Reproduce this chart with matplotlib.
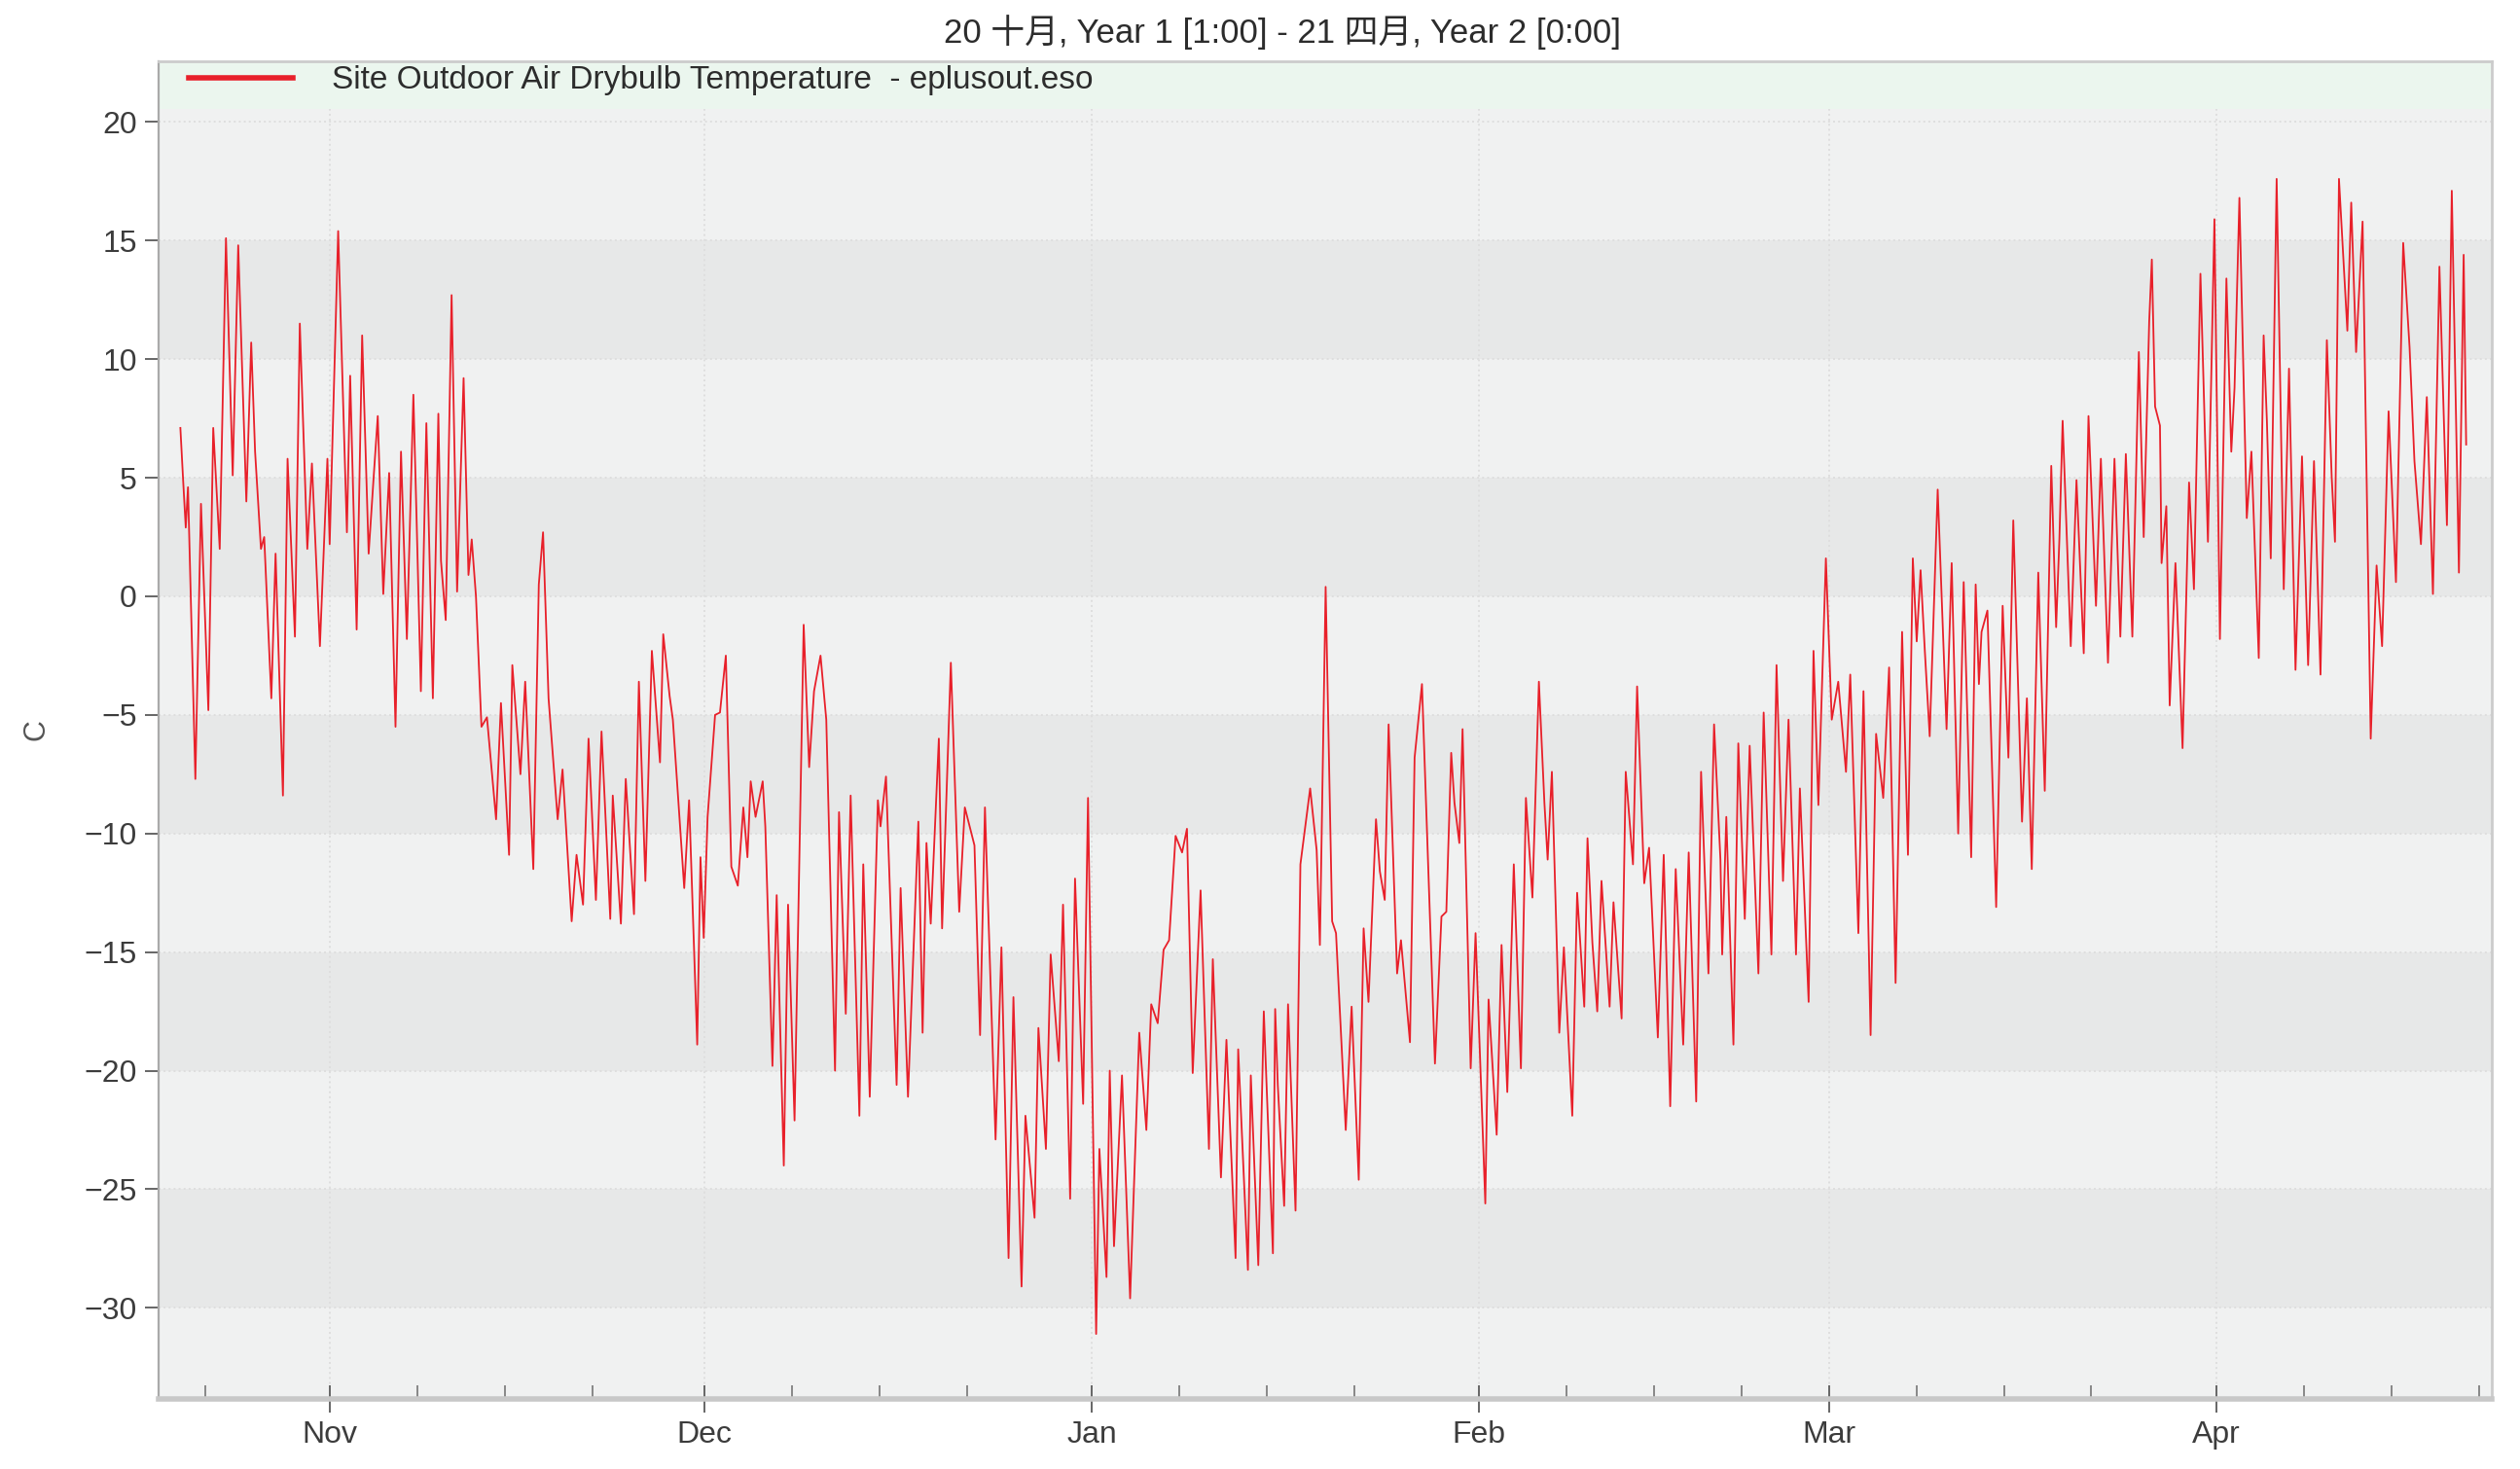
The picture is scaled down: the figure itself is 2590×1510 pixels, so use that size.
import matplotlib
matplotlib.use('Agg')
import matplotlib.pyplot as plt
import matplotlib.dates as mdates
from matplotlib.patches import Rectangle
from datetime import datetime, timedelta

plt.rcParams['font.family'] = ['Liberation Sans', 'Noto Sans CJK SC', 'DejaVu Sans']

start = datetime(2001, 10, 20)
day_offset = [
    0.04, 0.26, 0.47, 0.65, 1.24, 1.69, 2.28, 2.67, 3.19, 3.69, 4.23, 4.67, 5.32, 5.71,
    6.02, 6.49, 6.75, 7.32, 7.66, 8.25, 8.62, 9.21, 9.60, 10.20, 10.57, 11.21, 11.81,
    11.99, 12.67, 13.37, 13.63, 14.15, 14.59, 15.11, 15.52, 15.84, 16.28, 16.75, 17.26,
    17.70, 18.17,
    18.69, 18.95, 19.29, 19.73, 20.25, 20.69, 20.90, 21.28, 21.75, 22.19, 22.71, 23.10,
    23.36, 23.70, 24.14, 24.58, 25.31, 25.70, 26.35, 26.61, 27.26, 27.64, 28.29, 28.73,
    29.07, 29.51, 30.24, 30.63, 31.36, 31.75, 32.27, 32.71, 33.30, 33.75, 34.45, 34.65,
    35.30, 35.69,
    36.35, 36.74, 37.26, 37.78, 38.43, 38.69, 39.20, 39.46, 40.37, 40.76, 41.41, 41.67,
    41.93, 42.24, 42.84, 43.23, 43.70, 44.14, 44.66, 45.10, 45.43, 45.69, 46.08, 46.65,
    46.86, 47.43, 47.77, 48.34, 48.68, 49.20, 49.93, 50.37, 50.76, 51.28, 51.74, 52.44,
    52.76, 53.30, 53.69,
    54.39, 54.70, 55.22, 55.87, 56.08, 56.52, 57.37, 57.69, 58.28, 59.11, 59.45, 59.76,
    60.10, 60.75, 61.01, 61.71, 62.38, 62.83, 63.60, 64.05, 64.44, 65.29, 65.76, 66.33,
    66.72, 67.37, 67.68, 68.41, 68.72, 69.32, 69.70, 70.35, 70.69, 71.26,
    71.65, 72.30, 72.69, 73.34, 73.60, 74.17, 74.43, 74.77, 75.41, 76.06, 76.79, 77.36,
    77.75, 78.27, 78.74, 79.18, 79.70, 80.22, 80.61, 81.07, 81.70, 82.37, 82.68, 83.33,
    83.77, 84.50, 84.71, 85.49, 85.72, 86.32, 86.76, 87.49, 87.67, 87.88, 88.39, 88.70,
    89.30,
    89.69, 90.47, 90.99, 91.25, 91.71, 92.23, 92.54, 93.32, 93.79, 94.36, 94.75, 95.14,
    95.74, 96.05, 96.44, 96.75, 97.43, 97.74, 98.46, 98.83, 99.42, 100.46, 100.98,
    101.37, 101.76, 102.02, 102.41, 102.67, 103.32, 103.71, 104.49, 104.75, 105.40,
    105.79, 106.25, 106.77, 107.34, 107.74,
    108.26, 108.78, 109.22, 109.48, 109.82, 110.41, 110.78, 111.45, 111.84, 112.41,
    112.67, 113.06, 113.45, 113.79, 114.44, 114.75, 115.40, 115.73, 116.31, 116.64,
    117.21, 117.60, 118.30, 118.77, 119.29, 119.73, 120.33, 120.77, 121.37, 121.76,
    122.35, 122.80, 123.31, 123.45, 123.78, 124.35, 124.74, 125.26, 125.65,
    126.35, 126.77, 127.39, 127.80, 128.32, 128.76, 129.36, 129.67, 130.37, 130.76,
    131.15, 131.75, 132.22, 132.74, 133.36, 133.70, 134.35, 134.76, 135.33, 135.77,
    136.34, 136.81, 137.33, 137.85, 138.32, 138.71, 139.02, 139.33, 139.67, 140.06,
    140.70, 141.41, 141.82, 142.34, 142.78, 143.38, 143.74,
    144.00, 144.21, 144.68, 145.38, 145.90, 146.36, 146.75, 147.45, 147.84, 148.23,
    148.75, 149.27, 149.79, 150.18, 150.44, 150.70, 151.35, 151.81, 152.39, 152.77,
    153.37, 153.76, 154.33, 154.85, 155.32, 155.76, 156.28, 156.80, 157.19, 157.63,
    157.84, 158.10, 158.49, 158.62, 159.00, 159.27, 159.73, 160.30, 160.82, 161.21,
    161.73,
    161.90, 162.33, 162.85, 163.29, 163.81, 164.20, 164.46, 164.85, 165.44, 165.81,
    166.40, 166.79, 167.05, 167.36, 167.83, 168.40, 168.82, 169.34, 169.86, 170.35,
    170.82, 171.34, 171.85, 172.24, 172.50, 172.82, 173.49, 173.80, 174.19, 174.71,
    175.36, 175.83, 176.27, 176.79, 177.38, 177.96, 178.47, 178.86, 179.38, 179.85,
    180.34, 180.86, 181.46, 181.85, 182.42, 182.80, 183.00,
]
temp_c = [
    7.1, 4.9, 2.9, 4.6, -7.7, 3.9, -4.8, 7.1, 2.0, 15.1, 5.1, 14.8, 4.0, 10.7,
    6.1, 2.0, 2.5, -4.3, 1.8, -8.4, 5.8, -1.7, 11.5, 2.0, 5.6, -2.1, 5.8,
    2.2, 15.4, 2.7, 9.3, -1.4, 11.0, 1.8, 5.1, 7.6, 0.1, 5.2, -5.5,
    6.1, -1.8,
    8.5, 3.2, -4.0, 7.3, -4.3, 7.7, 1.5, -1.0, 12.7, 0.2, 9.2, 0.9,
    2.4, 0.0, -5.5, -5.1, -9.4, -4.5, -10.9, -2.9, -7.5, -3.6, -11.5, 0.5,
    2.7, -4.3, -9.4, -7.3, -13.7, -10.9, -13.0, -6.0, -12.8, -5.7, -13.6, -8.4,
    -13.8, -7.7,
    -13.4, -3.6, -12.0, -2.3, -7.0, -1.6, -4.2, -5.2, -12.3, -8.6, -18.9, -11.0,
    -14.4, -9.3, -5.0, -4.9, -2.5, -11.4, -12.2, -8.9, -11.0, -7.8, -9.3, -7.8,
    -9.7, -19.8, -12.6, -24.0, -13.0, -22.1, -1.2, -7.2, -4.0, -2.5, -5.2, -20.0,
    -9.1, -17.6, -8.4,
    -21.9, -11.3, -21.1, -8.6, -9.7, -7.6, -20.6, -12.3, -21.1, -9.5, -18.4, -10.4,
    -13.8, -6.0, -14.0, -2.8, -13.3, -8.9, -10.5, -18.5, -8.9, -22.9, -14.8, -27.9,
    -16.9, -29.1, -21.9, -26.2, -18.2, -23.3, -15.1, -19.6, -13.0, -25.4,
    -11.9, -21.4, -8.5, -31.1, -23.3, -28.7, -20.0, -27.4, -20.2, -29.6, -18.4, -22.5,
    -17.2, -18.0, -14.9, -14.5, -10.1, -10.8, -9.8, -20.1, -12.4, -23.3, -15.3, -24.5,
    -18.7, -27.9, -19.1, -28.4, -20.2, -28.2, -17.5, -27.7, -17.4, -20.6, -25.7, -17.2,
    -25.9,
    -11.3, -8.1, -10.7, -14.7, 0.4, -13.7, -14.2, -22.5, -17.3, -24.6, -14.0, -17.1,
    -9.4, -11.6, -12.8, -5.4, -15.9, -14.5, -18.8, -6.8, -3.7, -19.7, -13.5,
    -13.3, -6.6, -8.7, -10.4, -5.6, -19.9, -14.2, -25.6, -17.0, -22.7,
    -14.7, -20.9, -11.3, -19.9, -8.5,
    -12.7, -3.6, -8.7, -11.1, -7.4, -18.4, -14.8, -21.9, -12.5, -17.3,
    -10.2, -14.6, -17.5, -12.0, -17.3, -12.9, -17.8, -7.4, -11.3, -3.8,
    -12.1, -10.6, -18.6, -10.9, -21.5, -11.5, -18.9, -10.8, -21.3, -7.4,
    -15.9, -5.4, -11.1, -15.1, -9.3, -18.9, -6.2, -13.6, -6.3,
    -15.9, -4.9, -15.1, -2.9, -12.0, -5.2, -15.1, -8.1, -17.1, -2.3,
    -8.8, 1.6, -5.2, -3.6, -7.4, -3.3, -14.2, -4.0, -18.5, -5.8,
    -8.5, -3.0, -16.3, -1.5, -10.9, 1.6, -1.9, 1.1, -2.3, -5.9,
    4.5, -5.6, 1.4, -10.0, 0.6, -11.0, 0.5,
    -3.7, -1.5, -0.6, -13.1, -0.4, -6.8, 3.2, -9.5, -4.3, -11.5,
    1.0, -8.2, 5.5, -1.3, 2.4, 7.4, -2.1, 4.9, -2.4, 7.6,
    -0.4, 5.8, -2.8, 5.8, -1.7, 6.0, -1.7, 10.3, 2.5, 11.6,
    14.2, 8.0, 7.2, 1.4, 3.8, -4.6, 1.4, -6.4, 4.8, 0.3,
    13.6,
    10.5, 2.3, 15.9, -1.8, 13.4, 6.1, 8.8, 16.8, 3.3, 6.1,
    -2.6, 11.0, 7.4, 1.6, 17.6, 0.3, 9.6, -3.1, 5.9, -2.9,
    5.7, -3.3, 10.8, 5.0, 2.3, 17.6, 11.2, 16.6, 10.3, 15.8,
    -6.0, 1.3, -2.1, 7.8, 0.6, 14.9, 10.5, 5.7, 2.2, 8.4,
    0.1, 13.9, 3.0, 17.1, 1.0, 14.4, 6.4,
]

series_label = 'Site Outdoor Air Drybulb Temperature  - eplusout.eso'
title = '20 十月, Year 1 [1:00] - 21 四月, Year 2 [0:00]'
y_ticks = [20, 15, 10, 5, 0, -5, -10, -15, -20, -25, -30]
dark_bands = [10, 0, -10, -20, -30]   # lower edge of each darker 5-degree band

times = [start + timedelta(days=d) for d in day_offset]

fig = plt.figure(figsize=(12.95, 7.55), dpi=200)
ax = fig.add_axes([0.0629, 0.0477, 0.9259, 0.9106])
ax.set_facecolor('#f0f1f1')

for lo in dark_bands:
    ax.axhspan(lo, lo + 5, color='#e7e8e8', lw=0, zorder=0)

# light green strip behind the legend
ax.add_patch(Rectangle((0, 0.964), 1, 0.036, transform=ax.transAxes,
                       color='#ebf6ee', lw=0, zorder=1))

ax.plot(times, temp_c, color='#e8202a', lw=0.65, label=series_label, zorder=3)

ax.set_xlim(start - timedelta(days=1.71), start + timedelta(days=185.05))
ax.set_ylim(-33.84, 22.56)
ax.set_yticks(y_ticks)

ax.xaxis.set_major_locator(mdates.MonthLocator())
ax.xaxis.set_major_formatter(mdates.DateFormatter('%b'))
ax.xaxis.set_minor_locator(mdates.DayLocator(bymonthday=[8, 15, 22]))

ax.grid(True, which='major', axis='both', color='#dedede', lw=0.7, ls=':', zorder=1)
ax.set_axisbelow(True)

ax.tick_params(axis='y', colors='#666666', labelsize=11.5, length=5, width=0.7,
               direction='out', pad=3)
ax.tick_params(axis='x', which='major', colors='#666666', labelsize=11.5, length=10,
               width=0.7, direction='inout', pad=3)
ax.tick_params(axis='x', which='minor', colors='#888888', length=5, width=0.7,
               direction='in')
for lab in ax.get_xticklabels() + ax.get_yticklabels():
    lab.set_color('#3c3c3c')

for side in ['top', 'right']:
    ax.spines[side].set_color('#cccccc')
    ax.spines[side].set_linewidth(1.0)
ax.spines['left'].set_color('#aaaaaa')
ax.spines['left'].set_linewidth(0.8)
ax.spines['bottom'].set_color('#c8c8c8')
ax.spines['bottom'].set_linewidth(2.0)

ax.set_ylabel('C', color='#555555', fontsize=11, labelpad=12)

leg = ax.legend(loc='center left', bbox_to_anchor=(0.0129, 0.9855), frameon=False,
                borderpad=0, borderaxespad=0, handlelength=3.2, handletextpad=1.2,
                fontsize=12)
for t in leg.get_texts():
    t.set_color('#2c2c2c')
for h in leg.get_lines():
    h.set_linewidth(2.0)

fig.text(0.509, 0.978, title, ha='center', va='center', fontsize=12.5, color='#2c2c2c')

fig.savefig('out.png', dpi=200, facecolor='white')
